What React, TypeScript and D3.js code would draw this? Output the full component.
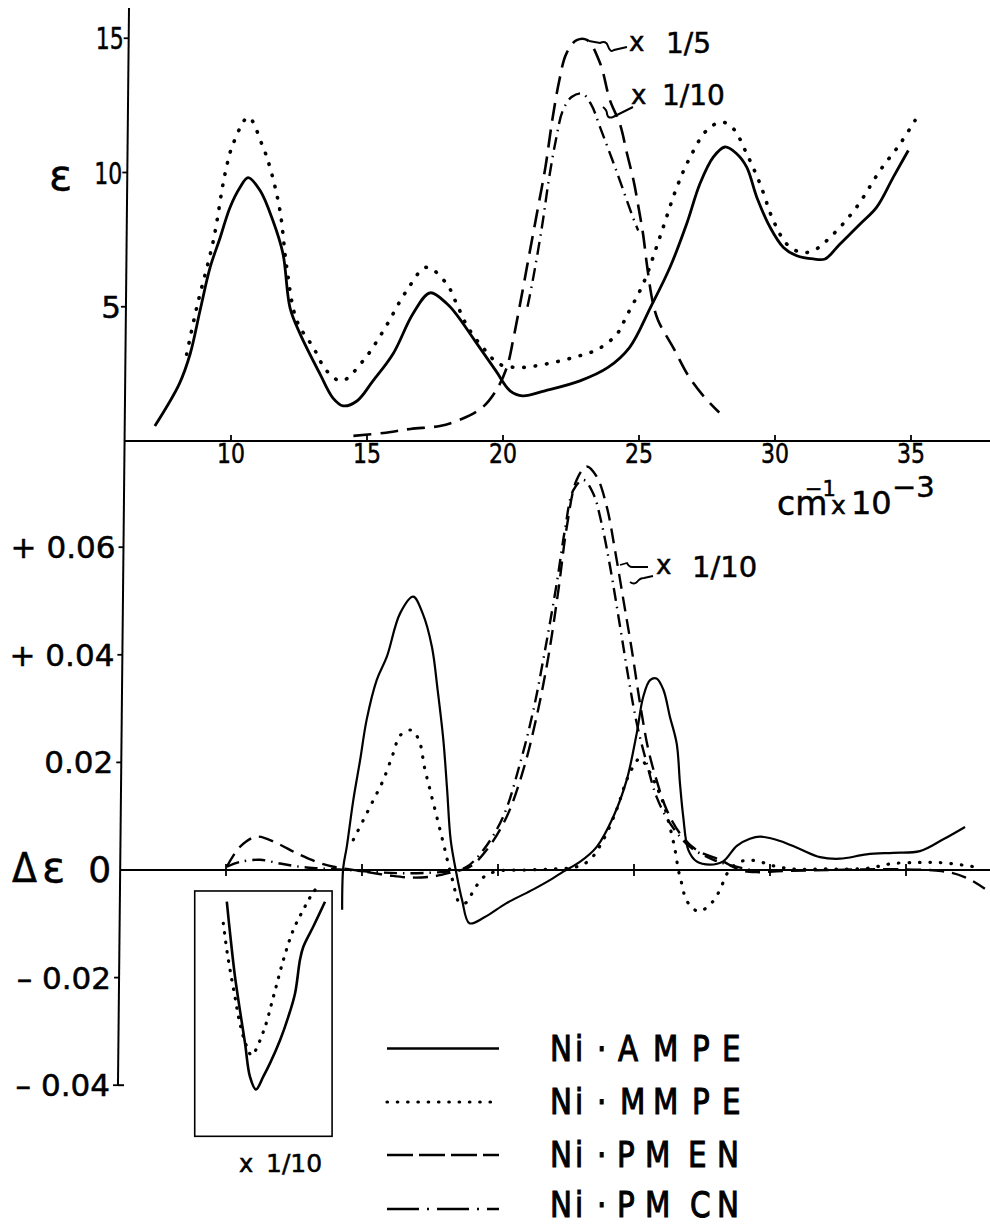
import React from 'react';
import * as d3 from 'd3';

// ---------- data (wavenumber in 10^3 cm^-1) ----------
const xTicks = [10, 15, 20, 25, 30, 35];
const xTickLabels = ['10', '15', '20', '25', '30', '35'];
const epsTicks = [5, 10, 15];
const epsTickLabels = ['5', '10', '15'];
const deTicks = [0.06, 0.04, 0.02, 0, -0.02, -0.04];
const deTickLabels = ['+ 0.06', '+ 0.04', '0.02', '0', '– 0.02', '– 0.04'];
const seriesNames = ['Ni·AMPE', 'Ni·MMPE', 'Ni·PMEN', 'Ni·PMCN'];

// top panel: epsilon
const ampeEps: [number, number][] = [
  [7.2, 0.56], [8.1, 2.13], [8.5, 3.25], [8.86, 4.85], [9.23, 6.46], [9.6, 7.57], [9.96, 8.69],
  [10.33, 9.44], [10.63, 9.81], [11.07, 9.33], [11.54, 8.21], [11.91, 6.98], [12.17, 4.96],
  [12.54, 3.99], [13.27, 2.5], [13.75, 1.6], [14.12, 1.31], [14.63, 1.49], [15.22, 2.24],
  [15.96, 3.25], [16.69, 4.74], [17.32, 5.52], [17.94, 5.11], [18.3, 4.7], [18.97, 3.73],
  [19.74, 2.61], [20.26, 1.87], [20.72, 1.68], [21.54, 1.87], [22.83, 2.24], [23.86, 2.74],
  [24.65, 3.48], [25.42, 4.97], [26.14, 6.47], [26.75, 8.08], [27.24, 9.58], [27.73, 10.57],
  [28.16, 10.95], [28.59, 10.7], [28.96, 10.2], [29.33, 9.08], [29.82, 7.96], [30.31, 7.21],
  [30.8, 6.9], [31.41, 6.78], [31.84, 6.78], [32.39, 7.34], [33.13, 8.08], [33.74, 8.71],
  [34.35, 9.83], [34.9, 10.82],
];
const mmpeEps: [number, number][] = [
  [8.37, 3.23], [8.74, 4.97], [9.35, 7.46], [9.78, 9.95], [10.08, 11.07], [10.64, 12.06],
  [11.13, 11.07], [11.43, 10.2], [11.8, 8.58], [12.05, 6.47], [12.42, 4.48], [13.03, 3.48],
  [13.52, 2.61], [14.07, 2.24], [14.86, 2.99], [15.6, 4.1], [16.46, 5.6], [17.19, 6.47],
  [17.93, 5.85], [18.3, 5.1], [18.71, 4.23], [19.36, 3.36], [19.87, 2.86], [20.65, 2.74],
  [21.54, 2.86], [22.58, 3.11], [23.49, 3.42], [24.2, 4.0], [24.55, 4.67], [25.16, 5.87],
  [25.77, 7.6], [26.39, 9.45], [26.88, 10.57], [27.49, 11.57], [28.04, 11.88], [28.47, 11.63],
  [28.96, 10.7], [29.45, 9.58], [29.94, 8.21], [30.43, 7.34], [30.93, 7.03], [31.41, 7.09],
  [32.15, 7.71], [33.0, 8.71], [33.86, 10.07], [34.6, 11.07], [35.15, 11.94],
];
const pmenEps: [number, number][] = [
  [14.5, 0.19], [15.6, 0.3], [16.6, 0.45], [17.68, 0.56], [18.46, 0.81], [19.23, 1.24],
  [19.74, 1.87], [20.14, 2.74], [20.39, 3.85], [20.65, 5.22], [20.97, 6.97], [21.29, 8.71],
  [21.56, 10.2], [21.81, 11.94], [22.07, 13.43], [22.33, 14.43], [22.71, 14.93], [23.1, 14.93],
  [23.57, 14.07], [23.93, 12.7], [24.3, 11.8], [24.56, 10.7], [24.8, 9.7], [25.0, 8.6],
  [25.15, 7.7], [25.3, 6.5], [25.5, 5.2], [25.7, 4.5], [26.3, 3.4], [26.8, 2.45],
  [27.35, 1.7], [27.95, 1.06],
];
const pmcnEps: [number, number][] = [
  [20.9, 5.0], [21.07, 5.85], [21.43, 7.96], [21.68, 9.7], [21.94, 11.19], [22.2, 12.31],
  [22.52, 12.81], [22.91, 12.94], [23.23, 12.56], [23.57, 11.68], [24.19, 10.0], [24.78, 8.32],
  [24.97, 7.84],
];

// bottom panel: delta epsilon
const ampeDe: [number, number][] = [
  [14.27, -0.0074], [14.31, 0.0004], [14.44, 0.0043], [14.68, 0.013], [14.93, 0.0204],
  [15.17, 0.0279], [15.54, 0.0353], [15.91, 0.0396], [16.4, 0.0477], [16.88, 0.0508],
  [17.23, 0.0477], [17.57, 0.0415], [17.78, 0.0335], [17.99, 0.0242], [18.13, 0.0149],
  [18.26, 0.0056], [18.47, -0.0006], [18.68, -0.0056], [18.95, -0.0099], [19.5, -0.0088],
  [20.3, -0.0062], [21.3, -0.0036], [22.0, -0.0016], [22.4, -0.0003], [23.01, 0.0015],
  [23.63, 0.0043], [24.24, 0.0099], [24.73, 0.0167], [25.1, 0.0254], [25.34, 0.0322],
  [25.59, 0.0353], [25.83, 0.0356], [26.08, 0.0335], [26.32, 0.0285], [26.57, 0.0235],
  [26.69, 0.0161], [26.81, 0.0099], [27.0, 0.0037], [27.3, 0.0016], [27.79, 0.001],
  [28.28, 0.0016], [28.78, 0.0045], [29.26, 0.0058], [29.63, 0.0062], [30.37, 0.0054],
  [31.1, 0.0039], [31.84, 0.0024], [32.57, 0.0021], [33.55, 0.0029], [34.53, 0.0032],
  [35.51, 0.0035], [36.37, 0.0057], [37.17, 0.008],
];
const mmpeDe: [number, number][] = [
  [14.68, 0.0056], [15.05, 0.0093], [15.42, 0.013], [15.78, 0.0167], [16.15, 0.0217],
  [16.4, 0.025], [16.81, 0.026], [17.09, 0.0242], [17.3, 0.019], [17.5, 0.0149],
  [17.75, 0.0099], [17.99, 0.005], [18.17, 0.0012], [18.33, -0.0019], [18.6, -0.0062],
  [18.85, -0.006], [19.1, -0.0038], [19.5, -0.0012], [20.0, -0.0002], [21.0, 0.0],
  [22.0, 0.0002], [22.89, 0.0006], [23.38, 0.0019], [23.87, 0.0056], [24.36, 0.0112],
  [24.73, 0.0167], [25.04, 0.0198], [25.22, 0.0208], [25.53, 0.0186], [25.83, 0.0155],
  [26.08, 0.0124], [26.32, 0.008], [26.51, 0.0037], [26.63, 0.0], [26.72, -0.0018],
  [26.9, -0.0053], [27.1, -0.0068], [27.37, -0.0077], [27.72, -0.0068], [28.03, -0.0049],
  [28.27, -0.0024], [28.52, 0.0001], [29.0, 0.0017], [29.5, 0.0017], [30.1, 0.0008],
  [30.85, 0.0002], [32.0, 0.0002], [33.55, 0.0003], [34.5, 0.0012], [35.5, 0.0014],
  [36.1, 0.0014], [36.8, 0.0011], [37.5, 0.0006],
];
const pmenDe: [number, number][] = [
  [10.03, 0.0006], [10.51, 0.0043], [11.13, 0.0062], [11.86, 0.005], [12.6, 0.0031],
  [13.33, 0.0015], [13.95, 0.0006], [14.44, 0.0002], [15.2, -0.0004], [16.0, -0.001],
  [16.8, -0.0014], [17.6, -0.0012], [18.3, -0.0004], [18.97, 0.0006], [19.58, 0.0037],
  [20.32, 0.0099], [20.93, 0.0186], [21.42, 0.0285], [21.85, 0.0396], [22.22, 0.052],
  [22.53, 0.0638], [22.89, 0.0725], [23.26, 0.075], [23.63, 0.0731], [24.0, 0.0675],
  [24.3, 0.0595], [24.61, 0.0502], [24.92, 0.0409], [25.22, 0.031], [25.53, 0.0223],
  [25.83, 0.0167], [26.2, 0.0112], [26.69, 0.0068], [27.3, 0.0037], [28.16, 0.0019],
  [28.9, 0.0], [29.5, -0.0004], [30.5, -0.0002], [36.3, -0.0002], [37.2, -0.0014],
  [37.9, -0.0035],
];
const pmcnDe: [number, number][] = [
  [10.03, 0.0006], [10.51, 0.0015], [11.25, 0.0019], [11.99, 0.0012], [12.72, 0.0006],
  [13.46, 0.0003], [14.5, 0.0], [15.5, -0.0004], [16.5, -0.0006], [17.5, -0.0005],
  [18.3, -0.0002], [18.85, 0.0006], [19.46, 0.0037], [20.19, 0.0099], [20.81, 0.0198],
  [21.3, 0.0297], [21.73, 0.0409], [22.16, 0.0533], [22.46, 0.0632], [22.77, 0.0706],
  [23.14, 0.0725], [23.5, 0.07], [23.81, 0.0644], [24.12, 0.0564], [24.49, 0.0452],
  [24.79, 0.0359], [25.1, 0.0273], [25.47, 0.0198], [25.83, 0.0136], [26.32, 0.0087],
  [27.06, 0.0043], [27.92, 0.0019], [28.6, 0.0008], [29.3, 0.0],
];
// inset (x 1/10) negative band
const ampeInset: [number, number][] = [
  [10.03, -0.0059], [10.15, -0.0118], [10.33, -0.0198], [10.51, -0.026], [10.7, -0.0322],
  [10.88, -0.0384], [11.1, -0.0408], [11.37, -0.0384], [11.62, -0.0359], [11.99, -0.0316],
  [12.29, -0.0273], [12.54, -0.0229], [12.72, -0.0167], [12.84, -0.0143], [13.21, -0.0105],
  [13.64, -0.0059],
];
const mmpeInset: [number, number][] = [
  [9.9, -0.0099], [10.03, -0.0149], [10.15, -0.0186], [10.33, -0.0236], [10.51, -0.0285],
  [10.76, -0.0328], [10.94, -0.0344], [11.37, -0.0301], [11.74, -0.0236], [12.11, -0.0167],
  [12.47, -0.0112], [12.84, -0.0074], [13.15, -0.0046], [13.46, -0.0025],
];
const insetBox = { x0: 8.85, x1: 13.9, y0: -0.0039, y1: -0.0495 };

// ---------- layout ----------
const W = 990;
const H = 1227;
const FONT = "'DejaVu Sans', 'Liberation Sans', sans-serif";

const xTop = d3.scaleLinear().domain([10, 35]).range([231, 911]);
const yTop = d3.scaleLinear().domain([0, 15]).range([441, 38.25]);
const xBot = d3.scaleLinear().domain([10, 35]).range([226, 906]);
const yBot = d3.scaleLinear().domain([0, 0.06]).range([870, 547.2]);

const axisTopY = 8;
const axisX = (y: number) => 129 - (y - axisTopY) * (11 / 1075);

const styles = {
  solidTop: { stroke: '#000', strokeWidth: 2.8, fill: 'none' },
  solidBot: { stroke: '#000', strokeWidth: 2.2, fill: 'none' },
  dotted: { stroke: '#000', strokeWidth: 3.6, fill: 'none', strokeDasharray: '0.5 11', strokeLinecap: 'round' as const },
  dottedBot: { stroke: '#000', strokeWidth: 3.2, fill: 'none', strokeDasharray: '0.5 10', strokeLinecap: 'round' as const },
  dashed: { stroke: '#000', strokeWidth: 2.6, fill: 'none', strokeDasharray: '18 9' },
  dashedBot: { stroke: '#000', strokeWidth: 2.4, fill: 'none', strokeDasharray: '15 8' },
  dashDot: { stroke: '#000', strokeWidth: 2.4, fill: 'none', strokeDasharray: '13 6 1.5 6' },
};

const txt = { stroke: '#000', strokeWidth: 0.5 };

function makeLine(xs: d3.ScaleLinear<number, number>, ys: d3.ScaleLinear<number, number>) {
  return d3
    .line<[number, number]>()
    .x((d) => xs(d[0]))
    .y((d) => ys(d[1]))
    .curve(d3.curveCatmullRom.alpha(0.5));
}

const legendRows = [
  { y: 1048.5, ty: 1061, chars: [550, 575, 597, 618, 653, 692, 722], style: { stroke: '#000', strokeWidth: 2.4 } },
  { y: 1102, ty: 1114, chars: [550, 575, 597, 620, 653, 692, 722], style: { stroke: '#000', strokeWidth: 3.2, strokeDasharray: '0.5 9.8', strokeLinecap: 'round' as const } },
  { y: 1155, ty: 1167, chars: [550, 575, 597, 617, 645, 688, 717], style: { stroke: '#000', strokeWidth: 2.6, strokeDasharray: '26 6' } },
  { y: 1209, ty: 1217, chars: [550, 575, 597, 617, 645, 690, 717], style: { stroke: '#000', strokeWidth: 2.6, strokeDasharray: '32 8 2 8' } },
];

export default function App() {
  const lt = makeLine(xTop, yTop);
  const lb = makeLine(xBot, yBot);
  const y0t = yTop(0);
  const y0b = yBot(0);
  const yAxisBottom = yBot(-0.04);

  return (
    <svg
      width={W}
      height={H}
      viewBox={`0 0 ${W} ${H}`}
      style={{ position: 'absolute', left: 0, top: 0, background: '#fff' }}
      fontFamily={FONT}
    >
      <rect width={W} height={H} fill="#fff" />

      {/* y axis (shared, slightly slanted like the original drawing) */}
      <line x1={axisX(axisTopY)} y1={axisTopY} x2={axisX(yAxisBottom)} y2={yAxisBottom} stroke="#000" strokeWidth={2} />
      <line x1={axisX(yAxisBottom)} y1={yAxisBottom} x2={axisX(yAxisBottom) + 6} y2={yAxisBottom} stroke="#000" strokeWidth={2} />

      {/* top x axis */}
      <line x1={axisX(y0t)} y1={y0t} x2={W} y2={y0t} stroke="#000" strokeWidth={2} />
      {xTicks.map((t, i) => (
        <g key={'xt' + t}>
          <line x1={xTop(t)} x2={xTop(t)} y1={y0t - 6} y2={y0t} stroke="#000" strokeWidth={1.8} />
          <text x={xTop(t)} y={y0t + 22} fontSize={27} textAnchor="middle" textLength={28} lengthAdjust="spacingAndGlyphs" {...txt}>
            {xTickLabels[i]}
          </text>
        </g>
      ))}
      {/* unit label */}
      <text y={515} {...txt}>
        <tspan x={777} fontSize={33}>cm</tspan>
        <tspan x={805} y={496} fontSize={21}>−1</tspan>
        <tspan x={831} y={514} fontSize={25}>x</tspan>
        <tspan x={851} y={514} fontSize={32}>10</tspan>
        <tspan x={892} y={497} fontSize={29}>−3</tspan>
      </text>

      {/* top y ticks */}
      {epsTicks.map((t, i) => {
        const y = yTop(t);
        const ax = axisX(y);
        const lab = epsTickLabels[i];
        return (
          <g key={'yt' + t}>
            <line x1={ax - 5} x2={ax} y1={y} y2={y} stroke="#000" strokeWidth={1.8} />
            <text
              x={ax - 5}
              y={y + 11}
              fontSize={31}
              textAnchor="end"
              {...txt}
              {...(lab.length > 1 ? { textLength: 28, lengthAdjust: 'spacingAndGlyphs' } : {})}
            >
              {lab}
            </text>
          </g>
        );
      })}
      <text x={49} y={190} fontSize={43} {...txt}>ε</text>

      {/* top curves */}
      <path d={lt(ampeEps) || ''} {...styles.solidTop} />
      <path d={lt(mmpeEps) || ''} {...styles.dotted} />
      <path d={lt(pmenEps) || ''} {...styles.dashed} />
      <path d={lt(pmcnEps) || ''} {...styles.dashDot} />

      {/* top annotations */}
      <path d="M589,41 L600,43 Q606,40 608,46 Q610,53 614,50 L627,47" fill="none" stroke="#000" strokeWidth={2} />
      <text x={629} y={51} fontSize={26} {...txt}>x</text>
      <text x={666} y={53} fontSize={28} {...txt}>1/5</text>
      <path d="M603,107 Q607,110 607,114 Q608,119 613,117 L633,107" fill="none" stroke="#000" strokeWidth={2} />
      <text x={631} y={104} fontSize={26} {...txt}>x</text>
      <text x={662} y={105} fontSize={28} {...txt}>1/10</text>

      {/* bottom zero line and ticks */}
      <line x1={axisX(y0b)} y1={y0b} x2={W} y2={y0b} stroke="#000" strokeWidth={2} />
      {xTicks.map((t) => (
        <line key={'xb' + t} x1={xBot(t)} x2={xBot(t)} y1={y0b - 6} y2={y0b + 6} stroke="#000" strokeWidth={1.8} />
      ))}
      {deTicks.map((t, i) => {
        const y = yBot(t);
        const ax = axisX(y);
        const isZero = t === 0;
        return (
          <g key={'yb' + t}>
            {!isZero && <line x1={ax - 5} x2={ax} y1={y} y2={y} stroke="#000" strokeWidth={1.8} />}
            <text x={isZero ? ax - 9 : ax - 8} y={y + (isZero ? 12 : 11)} fontSize={isZero ? 36 : 31} textAnchor="end" {...txt}>
              {deTickLabels[i]}
            </text>
          </g>
        );
      })}
      <text x={12} y={882} fontSize={40} textLength={25} lengthAdjust="spacingAndGlyphs" {...txt}>Δ</text>
      <text x={42} y={882} fontSize={43} {...txt}>ε</text>

      {/* bottom curves */}
      <path d={lb(pmenDe) || ''} {...styles.dashedBot} />
      <path d={lb(pmcnDe) || ''} {...styles.dashDot} />
      <path d={lb(mmpeDe) || ''} {...styles.dottedBot} />
      <path d={lb(ampeDe) || ''} {...styles.solidBot} />

      {/* bottom annotation */}
      <path d="M620,565 L627,563 Q629,567 632,567 L648,567" fill="none" stroke="#000" strokeWidth={1.8} />
      <path d="M630,582 Q634,585 637,582 Q640,578 644,578 L653,576" fill="none" stroke="#000" strokeWidth={1.8} />
      <text x={656} y={574} fontSize={26} {...txt}>x</text>
      <text x={692} y={577} fontSize={29} {...txt}>1/10</text>

      {/* inset */}
      <rect
        x={xBot(insetBox.x0)}
        y={yBot(insetBox.y0)}
        width={xBot(insetBox.x1) - xBot(insetBox.x0)}
        height={yBot(insetBox.y1) - yBot(insetBox.y0)}
        fill="none"
        stroke="#000"
        strokeWidth={1.6}
      />
      <path d={lb(mmpeInset) || ''} {...styles.dottedBot} strokeDasharray="0.5 9" />
      <path d={lb(ampeInset) || ''} {...styles.solidBot} strokeWidth={2.6} />
      <text x={239} y={1172} fontSize={24} {...txt}>x</text>
      <text x={266} y={1172} fontSize={25} {...txt}>1/10</text>

      {/* legend */}
      {legendRows.map((r, i) => (
        <g key={'lg' + i}>
          <line x1={387} x2={499} y1={r.y} y2={r.y} {...r.style} />
          {Array.from(seriesNames[i]).map((ch, j) => (
            <text
              key={j}
              transform={`translate(${r.chars[j]},${r.ty}) scale(0.84,1)`}
              fontSize={35}
              stroke="#000"
              strokeWidth={1.1}
            >
              {ch}
            </text>
          ))}
        </g>
      ))}
    </svg>
  );
}
